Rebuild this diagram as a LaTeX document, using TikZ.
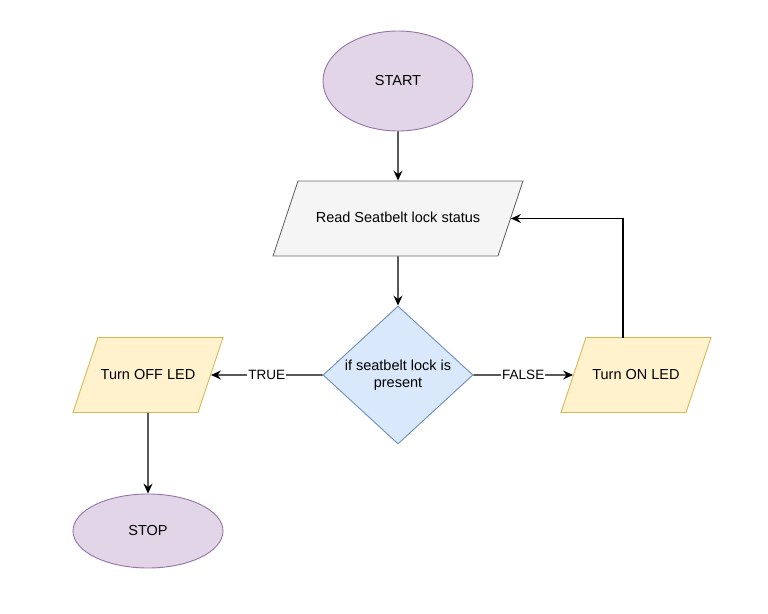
\documentclass[tikz,border=0pt]{standalone}
\usepackage{fontspec}
\setmainfont{Liberation Sans}
\usetikzlibrary{shapes.geometric,arrows.meta,calc}
\definecolor{termfill}{HTML}{E1D5E7}
\definecolor{termline}{HTML}{9673A6}
\definecolor{readfill}{HTML}{F5F5F5}
\definecolor{readline}{HTML}{666666}
\definecolor{ledfill}{HTML}{FFF2CC}
\definecolor{ledline}{HTML}{D6B656}
\definecolor{askfill}{HTML}{DAE8FC}
\definecolor{askline}{HTML}{6C8EBF}
\tikzset{
  txt/.style={font=\fontsize{14.5}{17.5}\selectfont, align=center},
  term/.style={txt, ellipse, draw=termline, fill=termfill, line width=0.9pt,
    minimum width=150pt, minimum height=100pt, inner sep=0pt},
  io/.style={txt, trapezium, trapezium left angle=71.57, trapezium right angle=108.43,
    trapezium stretches body, line width=0.9pt, minimum width=150pt,
    text height=11pt, text depth=3pt, inner xsep=0pt, inner ysep=30.5pt},
  ask/.style={txt, diamond, draw=askline, fill=askfill, line width=0.9pt,
    minimum width=150pt, minimum height=138pt, inner sep=0pt},
  arr/.style={-{Stealth[length=10pt,width=9pt,inset=3.5pt]}, line width=1.2pt},
  lbl/.style={font=\fontsize{13.5}{16}\selectfont, fill=white, inner sep=1pt}
}
\begin{document}
\begin{tikzpicture}[x=1pt,y=-1pt]
        \useasboundingbox (0,0) rectangle (768,613);
        \node[term] (start) at (398,81) {START};
        \node[io, draw=readline, fill=readfill, minimum width=250pt] (read) at (398,218.5) {Read Seatbelt lock status};
        \node[ask] (check) at (398,375) {if seatbelt lock is\\present};
        \node[io, draw=ledline, fill=ledfill] (ledoff) at (148,375) {Turn OFF LED};
        \node[io, draw=ledline, fill=ledfill] (ledon) at (636,375) {Turn ON LED};
        \node[term, minimum height=74pt] (stop) at (148,531) {STOP};
        \draw[arr] (start) -- (read);
        \draw[arr] (read) -- (check);
        \draw[arr] (check) --node[lbl]{TRUE} (ledoff);
        \draw[arr] (check) --node[lbl]{FALSE} (ledon);
        \draw[arr] (ledoff) -- (stop);
        \draw[arr] ($(ledon.center)+(-13,-37.5)$) |- (read.east);
    \end{tikzpicture}
\end{document}
